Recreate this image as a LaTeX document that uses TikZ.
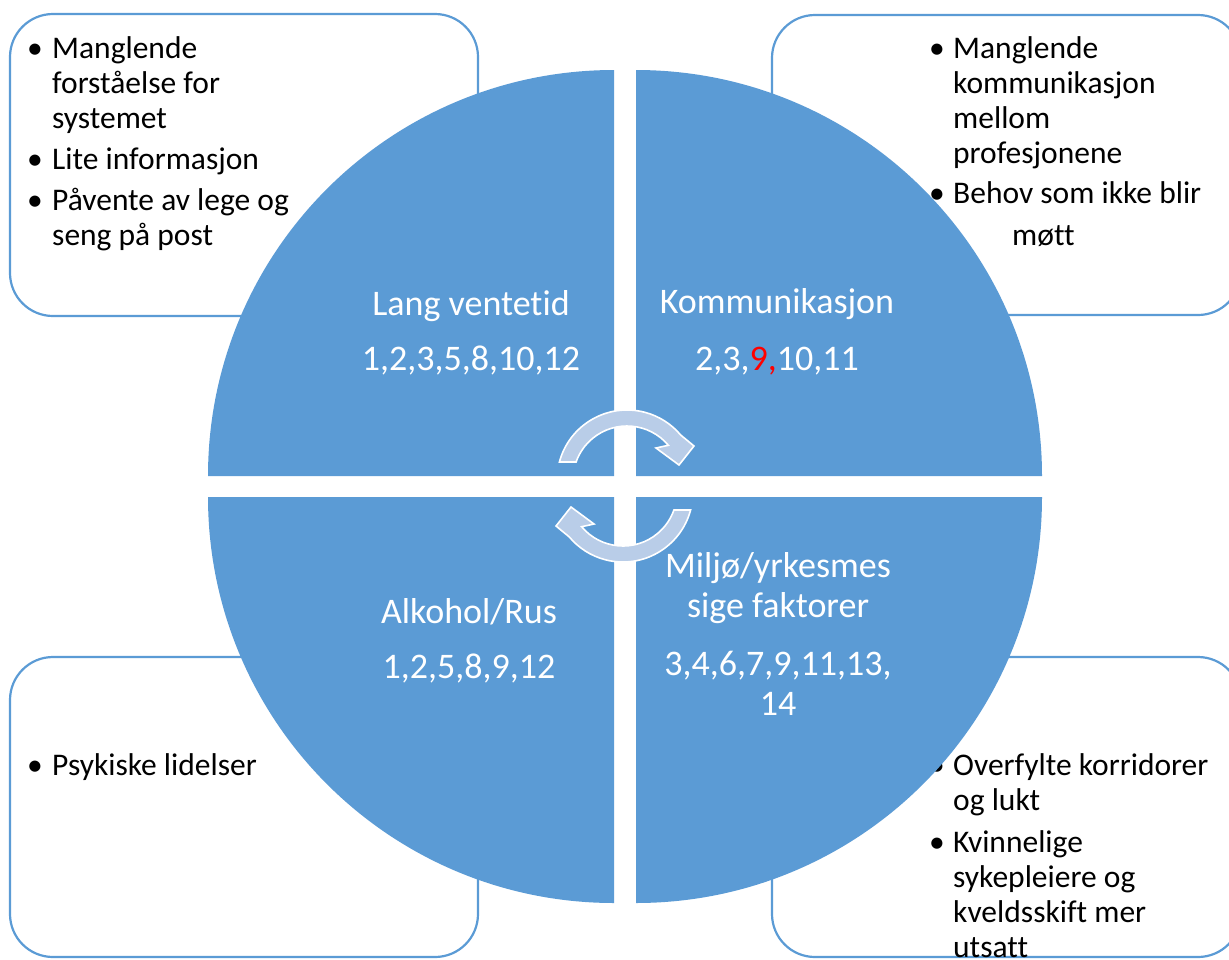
\documentclass[tikz,border=0pt]{standalone}
\usepackage{fontspec}
\setmainfont{Carlito}[Ligatures=NoCommon]
\definecolor{office}{HTML}{5B9BD5}
\definecolor{arrowfill}{HTML}{B9CDE8}
\definecolor{redtxt}{HTML}{FF0000}
\tikzset{
  boxst/.style={draw=office, line width=2.2pt, fill=white, rounded corners=43pt},
  quad/.style={fill=office},
  wtxt/.style={text=white, font=\fontsize{36}{40}\selectfont, inner sep=0pt, anchor=base},
  btxt/.style={text=black, font=\fontsize{31.5}{35}\selectfont, inner sep=0pt, anchor=base west},
  bul/.style={text=black, font=\fontsize{31.5}{35}\selectfont, inner sep=0pt, anchor=base},
  cyc/.style={fill=arrowfill, draw=white, line width=1.6pt, line join=miter},
}
\newcommand\mycycarrow{%
  \draw[cyc] (559.4,462) arc[start angle=165.1, end angle=40, radius=70pt]
    -- (694,446) -- (679,465) -- (656,448)
    -- ([shift={(40:54pt)}]ac) arc[start angle=40, end angle=160.5, radius=54pt] -- cycle;%
}
\begin{document}
\begin{tikzpicture}[x=1pt,y=-1pt]
\useasboundingbox (0,0) rectangle (1229,959);

% corner boxes
\draw[boxst] (10,14) rectangle (478,316);
\draw[boxst] (772,15) rectangle (1241,315);
\draw[boxst] (10,657) rectangle (478,957);
\draw[boxst] (772,657) rectangle (1241,957);

% top-left text
\node[bul] (tlb1) at (35,58) {\textbullet};
\node[btxt] (tl1) at (52,58) {Manglende};
\node[btxt] (tl2) at (52,93) {forståelse for};
\node[btxt] (tl3) at (52,128) {systemet};
\node[bul] (tlb2) at (35,169) {\textbullet};
\node[btxt] (tl4) at (52,169) {Lite informasjon};
\node[bul] (tlb3) at (35,210) {\textbullet};
\node[btxt] (tl5) at (52,210) {Påvente av lege og};
\node[btxt] (tl6) at (52,245) {seng på post};

% top-right text
\node[bul] (trb1) at (937,58) {\textbullet};
\node[btxt] (tr1) at (953,58) {Manglende};
\node[btxt] (tr2) at (953,93) {kommunikasjon};
\node[btxt] (tr3) at (953,128) {mellom};
\node[btxt] (tr4) at (953,163) {profesjonene};
\node[bul] (trb2) at (937,203) {\textbullet};
\node[btxt] (tr5) at (953,203) {Behov som ikke blir};
\node[btxt] (tr6) at (1012,245) {møtt};

% bottom-left text
\node[bul] (blb1) at (35,775) {\textbullet};
\node[btxt] (bl1) at (52,775) {Psykiske lidelser};

% bottom-right text
\node[bul] (brb1) at (937,775) {\textbullet};
\node[btxt] (br1) at (953,775) {Overfylte korridorer};
\node[btxt] (br2) at (953,810) {og lukt};
\node[bul] (brb2) at (937,852) {\textbullet};
\node[btxt] (br3) at (953,852) {Kvinnelige};
\node[btxt] (br4) at (953,887) {sykepleiere og};
\node[btxt] (br5) at (953,922) {kveldsskift mer};
\node[btxt] (br6) at (953,957) {utsatt};

% circle quadrants
\fill[quad] (614,476) -- ++(-406,0) arc[start angle=180, end angle=90, radius=406pt] -- cycle;
\fill[quad] (636,476) -- ++(0,-406) arc[start angle=90, end angle=0, radius=406pt] -- cycle;
\fill[quad] (636,497) -- ++(406,0) arc[start angle=0, end angle=-90, radius=406pt] -- cycle;
\fill[quad] (614,497) -- ++(0,406) arc[start angle=270, end angle=180, radius=406pt] -- cycle;

% circular arrows
\coordinate (ac) at (627,480);
\mycycarrow
\begin{scope}[rotate around={180:(625,486)}]
\coordinate (ac) at (627,480);
\mycycarrow
\end{scope}

% quadrant labels
\node[wtxt] (lv1) at (471,315) {Lang ventetid};
\node[wtxt] (lv2) at (471,370) {1,2,3,5,8,10,12};
\node[wtxt] (ko1) at (777,313) {Kommunikasjon};
\node[wtxt] (ko2) at (777,370) {2,3,\textcolor{redtxt}{9,}10,11};
\node[wtxt] (al1) at (469,623) {Alkohol/Rus};
\node[wtxt] (al2) at (469,678) {1,2,5,8,9,12};
\node[wtxt] (mi1) at (778,577) {Miljø/yrkesmes};
\node[wtxt] (mi2) at (778,617) {sige faktorer};
\node[wtxt] (mi3) at (778,675) {3,4,6,7,9,11,13,};
\node[wtxt] (mi4) at (778,715) {14};
\end{tikzpicture}
\end{document}
